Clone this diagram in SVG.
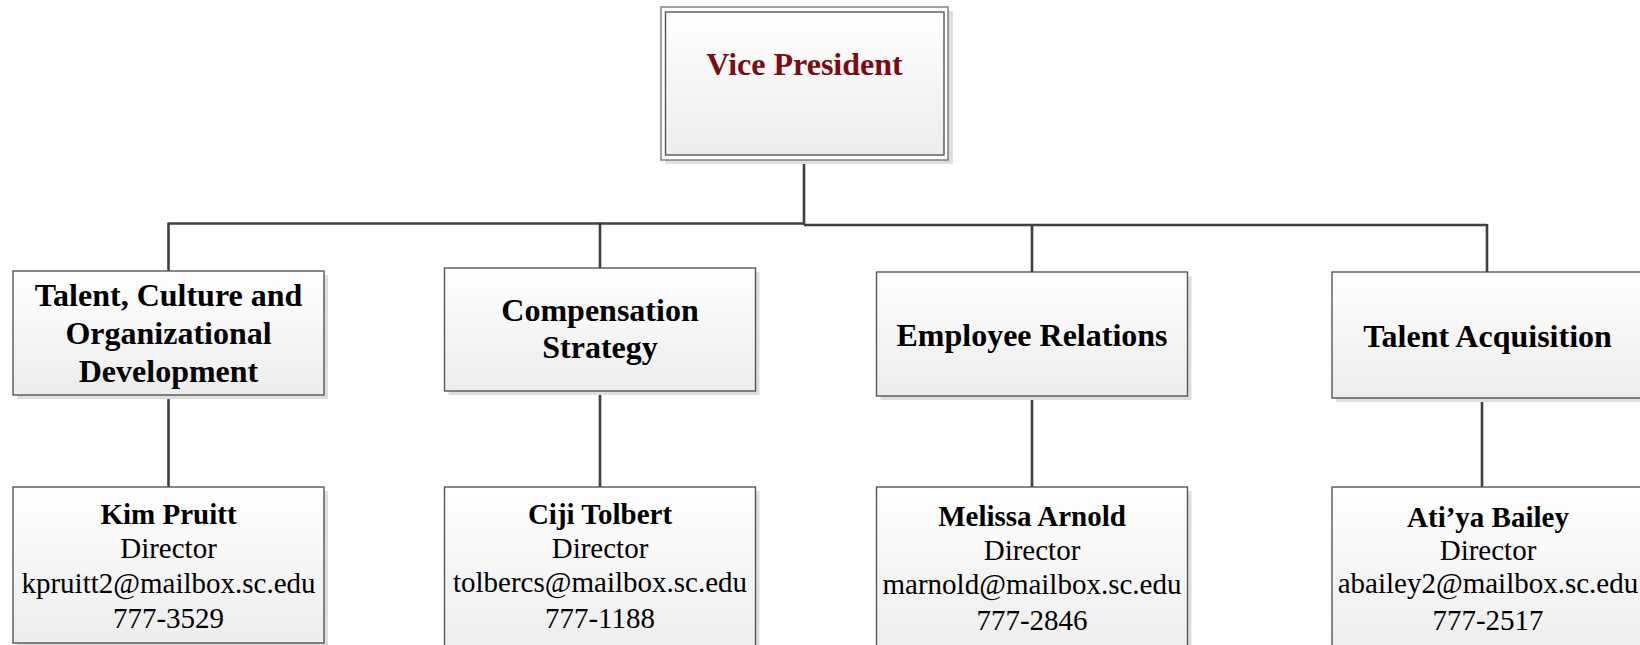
<svg xmlns="http://www.w3.org/2000/svg" width="1640" height="645" viewBox="0 0 1640 645">
<style>
.box{fill:url(#g);stroke:#555;stroke-width:1.4}
.sh{fill:#dedede}
.t2{font-family:"Liberation Serif","Times New Roman",serif;font-weight:bold;font-size:32px;fill:#000;text-anchor:middle}
.nm{font-family:"Liberation Serif","Times New Roman",serif;font-weight:bold;font-size:29px;fill:#000;text-anchor:middle}
.tx{font-family:"Liberation Serif","Times New Roman",serif;font-size:29px;fill:#000;text-anchor:middle}
.ln{stroke:#3f3f3f;stroke-width:2.6;fill:none}
</style>
<defs>
<linearGradient id="g" x1="0" y1="0" x2="0" y2="1">
<stop offset="0" stop-color="#ffffff"/>
<stop offset="1" stop-color="#ececec"/>
</linearGradient>
</defs>
<rect width="1640" height="645" fill="#fff"/>
<g id="connectors">
<path class="ln" d="M804,160 V225"/>
<path class="ln" d="M168.5,223.5 H804"/>
<path class="ln" d="M804,225 H1487"/>
<path class="ln" d="M168.5,222.5 V271"/>
<path class="ln" d="M600,222.5 V268"/>
<path class="ln" d="M1032,224 V272"/>
<path class="ln" d="M1487,224 V272"/>
<path class="ln" d="M168.5,395 V487"/>
<path class="ln" d="M600,391 V487"/>
<path class="ln" d="M1032,396 V487"/>
<path class="ln" d="M1482,398 V487"/>
</g>
<g id="vp">
<rect class="sh" x="665" y="11" width="288" height="153"/>
<rect x="661" y="7" width="287" height="153" fill="#fff" stroke="#777" stroke-width="1.4"/>
<rect class="box" x="665.5" y="12" width="278.5" height="143"/>
<text x="804.5" y="75" font-family="'Liberation Serif','Times New Roman',serif" font-weight="bold" font-size="32" fill="#7a0c12" text-anchor="middle">Vice President</text>
</g>
<g id="tcod">
<rect class="sh" x="17" y="275" width="311" height="124"/>
<rect class="box" x="13" y="271" width="311" height="124"/>
<text class="t2" x="168.5" y="306">Talent, Culture and</text>
<text class="t2" x="168.5" y="344">Organizational</text>
<text class="t2" x="168.5" y="382">Development</text>
</g>
<g id="comp">
<rect class="sh" x="448.5" y="272" width="311" height="123"/>
<rect class="box" x="444.5" y="268" width="311" height="123"/>
<text class="t2" x="600" y="321">Compensation</text>
<text class="t2" x="600" y="358">Strategy</text>
</g>
<g id="er">
<rect class="sh" x="880.5" y="276" width="311" height="124"/>
<rect class="box" x="876.5" y="272" width="311" height="124"/>
<text class="t2" x="1032" y="346">Employee Relations</text>
</g>
<g id="ta">
<rect class="sh" x="1336" y="276" width="311" height="126"/>
<rect class="box" x="1332" y="272" width="311" height="126"/>
<text class="t2" x="1487.5" y="347">Talent Acquisition</text>
</g>
<g id="kim">
<rect class="sh" x="17" y="491" width="311" height="156"/>
<rect class="box" x="13" y="487" width="311" height="156"/>
<text class="nm" x="168.5" y="524">Kim Pruitt</text>
<text class="tx" x="168.5" y="558">Director</text>
<text class="tx" x="168.5" y="593">kpruitt2@mailbox.sc.edu</text>
<text class="tx" x="168.5" y="628">777-3529</text>
</g>
<g id="ciji">
<rect class="sh" x="448.5" y="491" width="311" height="170"/>
<rect class="box" x="444.5" y="487" width="311" height="170"/>
<text class="nm" x="600" y="524">Ciji Tolbert</text>
<text class="tx" x="600" y="558">Director</text>
<text class="tx" x="600" y="592">tolbercs@mailbox.sc.edu</text>
<text class="tx" x="600" y="628">777-1188</text>
</g>
<g id="melissa">
<rect class="sh" x="880.5" y="491" width="311" height="170"/>
<rect class="box" x="876.5" y="487" width="311" height="170"/>
<text class="nm" x="1032" y="526">Melissa Arnold</text>
<text class="tx" x="1032" y="560">Director</text>
<text class="tx" x="1032" y="594">marnold@mailbox.sc.edu</text>
<text class="tx" x="1032" y="630">777-2846</text>
</g>
<g id="atiya">
<rect class="sh" x="1336" y="491" width="311" height="170"/>
<rect class="box" x="1332" y="487" width="311" height="170"/>
<text class="nm" x="1488" y="527" font-size="34">Ati’ya Bailey</text>
<text class="tx" x="1488" y="560" font-size="24.5">Director</text>
<text class="tx" x="1488" y="593" font-size="24">abailey2@mailbox.sc.edu</text>
<text class="tx" x="1488" y="630" font-size="34.5">777-2517</text>
</g>
</svg>
